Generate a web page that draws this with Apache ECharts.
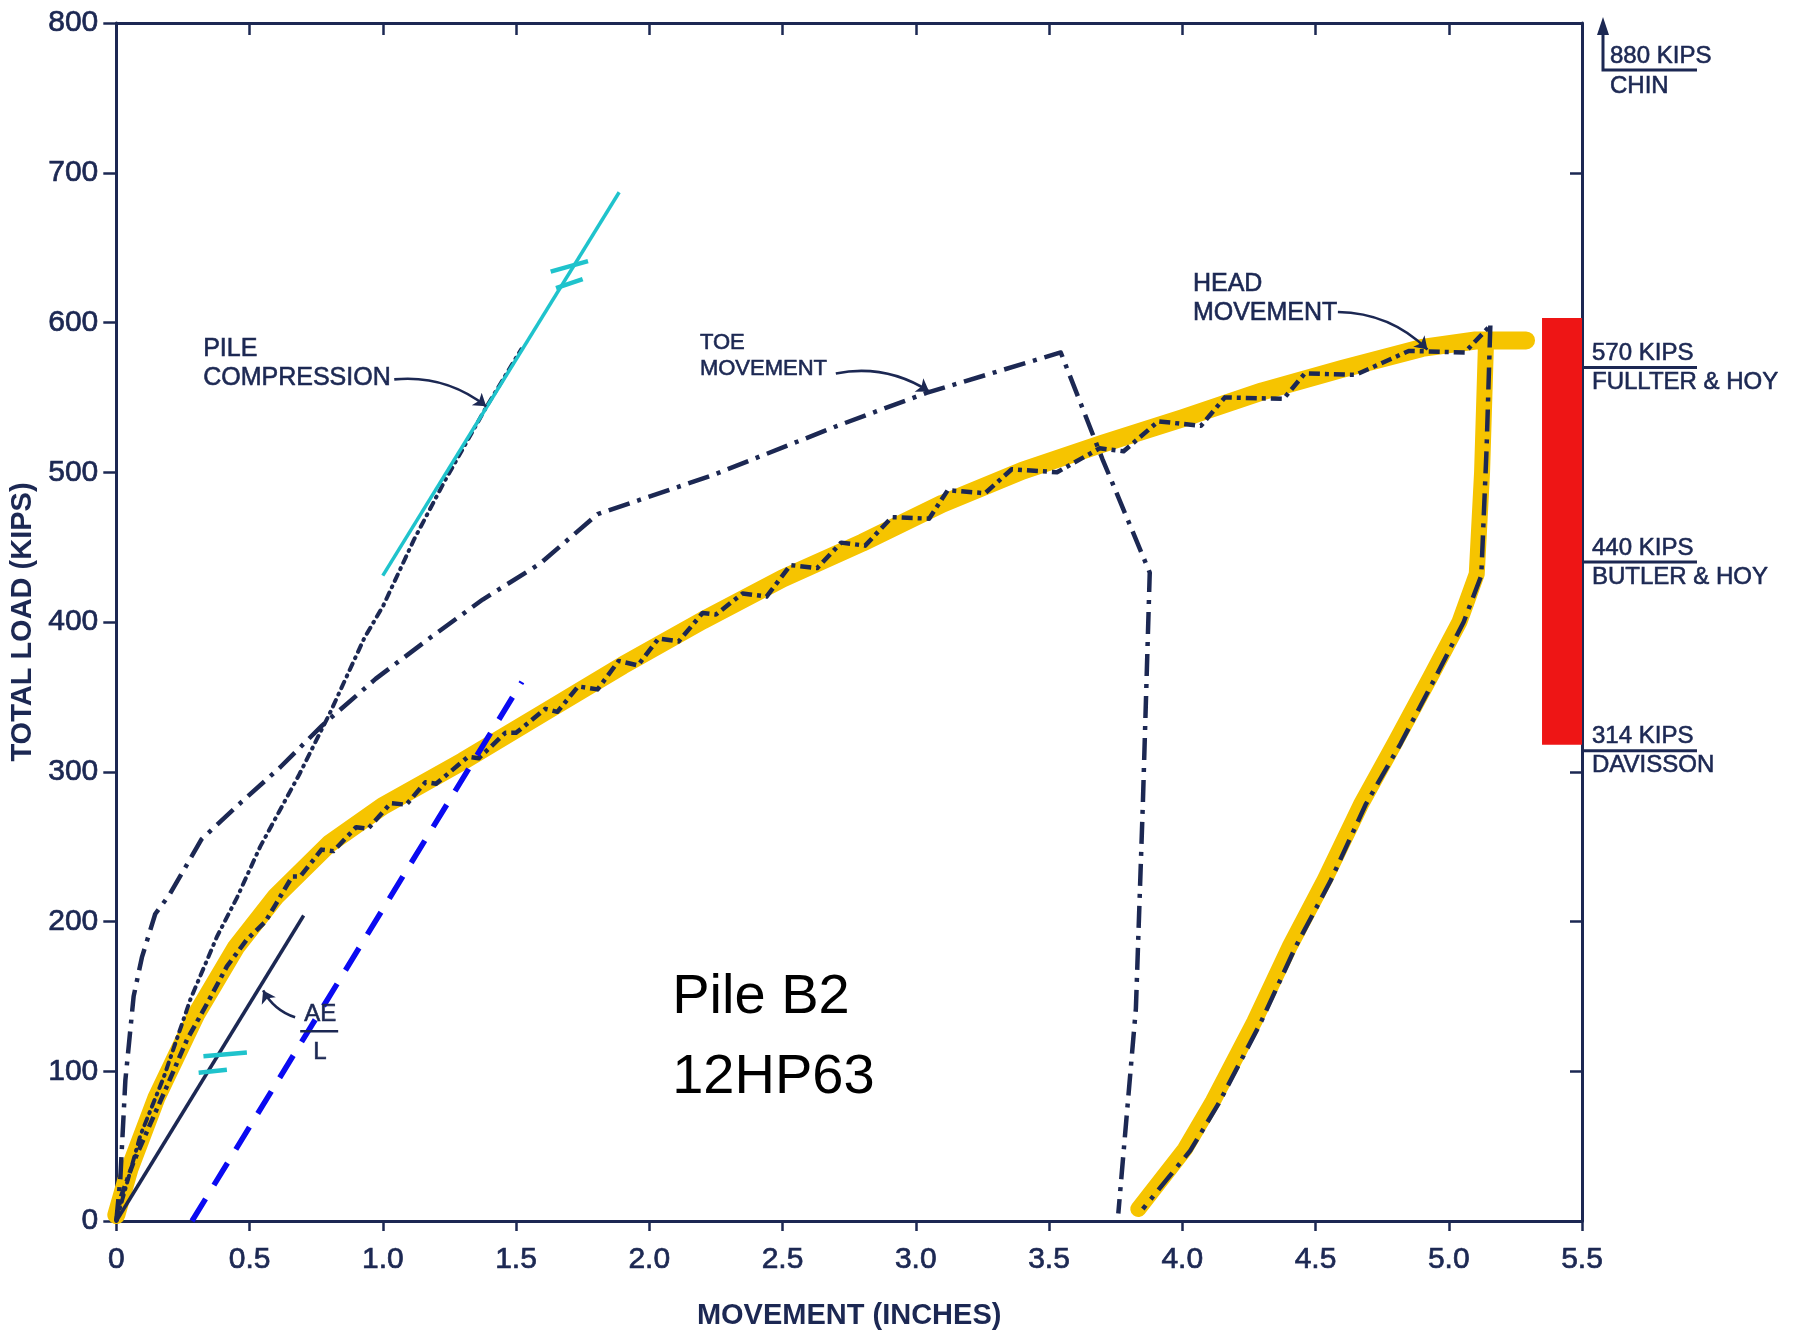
<!DOCTYPE html>
<html><head><meta charset="utf-8">
<script src="https://cdn.jsdelivr.net/npm/echarts@6/dist/echarts.min.js"></script>
<style>html,body{margin:0;padding:0;background:#fff}#c{width:1798px;height:1335px}</style>
</head><body><div id="c"></div>
<script>
// ---------- tick labels ----------
const xTickLabels = ['0','0.5','1.0','1.5','2.0','2.5','3.0','3.5','4.0','4.5','5.0','5.5'];
const yTickLabels = ['0','100','200','300','400','500','600','700','800'];

// ---------- data (movement in inches, load in kips) ----------
const headLoading = [[0,0],[0.015,15],[0.064,39],[0.128,65],[0.19,90],[0.265,121],[0.34,145],[0.415,170],[0.49,188],[0.56,200],[0.6,212],[0.66,230],[0.69,230],[0.77,248],[0.815,247],[0.9,263],[0.945,262],[1.03,279],[1.088,278],[1.16,293],[1.2,292],[1.32,310],[1.36,309],[1.46,326],[1.5,326],[1.61,342],[1.655,340],[1.733,357],[1.806,355],[1.885,374],[1.957,371],[2.035,389],[2.11,387],[2.2,406],[2.25,405],[2.35,419],[2.44,417],[2.53,438],[2.63,436],[2.72,453],[2.81,451],[2.91,470],[3.05,469],[3.12,488],[3.26,486],[3.36,502],[3.53,500],[3.69,516],[3.78,514],[3.91,534],[4.07,531],[4.16,550],[4.38,549],[4.46,566],[4.65,565],[4.85,581],[5.06,580],[5.156,598]];
const headUnloading = [[5.156,598],[5.142,516],[5.122,431],[5.056,400],[4.95,363],[4.82,319],[4.688,278],[4.556,227],[4.425,183],[4.293,132],[4.135,78],[4.03,47],[3.852,8]];
const yellowLoading = [[0,4],[0.05,35],[0.15,82],[0.3,138],[0.45,183],[0.6,217],[0.8,252],[1.0,277],[1.3,307],[1.6,339],[1.9,371],[2.2,401],[2.5,429],[2.8,453],[3.1,479],[3.4,501],[3.7,519],[4.0,536],[4.3,554],[4.6,569],[4.9,583],[5.1,588],[5.29,588]];
const yellowUnloading = [[5.14,588],[5.125,500],[5.105,432],[5.04,400],[4.93,363],[4.8,320],[4.67,278],[4.535,228],[4.405,184],[4.27,133],[4.115,80],[4.01,48],[3.835,8]];
const toeMovement = [[0,0],[0.015,28],[0.034,94],[0.065,150],[0.096,176],[0.146,205],[0.2,218],[0.32,255],[0.471,280],[0.615,303],[0.773,331],[0.973,362],[1.174,389],[1.375,415],[1.59,439],[1.806,472],[2.237,498],[2.706,531],[3.04,553],[3.544,580],[3.7,509],[3.878,433],[3.852,278],[3.826,142],[3.76,5]];
const pileCompression = [[0,0],[0.09,57],[0.178,96],[0.278,148],[0.378,190],[0.453,216],[0.54,250],[0.686,298],[0.801,339],[0.93,389],[1.002,411],[1.117,455],[1.232,494],[1.39,544],[1.519,582]];
const elasticLine = [[0,0],[0.703,204]];          // AE/L
const offsetLine = [[0.284,0],[1.522,360]];       // blue dashed (Davisson offset)
const cyanLine = [[1.0,431],[1.887,687]];
const cyanMarks = [[[1.63,634],[1.77,641]],[[1.65,623],[1.75,629]],[[0.327,110],[0.49,112.5]],[[0.309,99],[0.415,101]]];
const redBand = [[5.35,603],[5.5,318]];

// leader arrows [from, to]
const leaderArrows = [[[1.043,562],[1.388,544]],[[2.70,566],[3.05,554]],[[4.584,607],[4.92,582]],[[0.671,136],[0.551,154]]];
// curve labels: text, anchor (top-left) in data units, font size
const curveLabels = [
  {text:'PILE\nCOMPRESSION', at:[0.326,592], size:25},
  {text:'TOE\nMOVEMENT', at:[2.19,595], size:22},
  {text:'HEAD\nMOVEMENT', at:[4.04,635], size:25}
];
const titleLines = ['Pile B2','12HP63'];
const titleAt = [2.086,176];
const aeText = ['AE','L'];
const aeAt = [0.705,146];

// capacity annotations on right side
const capValues = [570,440,314];
const capLoads = ['570 KIPS','440 KIPS','314 KIPS'];
const capMethods = ['FULLTER & HOY','BUTLER & HOY','DAVISSON'];
const chinLoad = '880 KIPS';
const chinMethod = 'CHIN';

const NAVY = '#1c2853';
const FONT = 'Liberation Sans, Arial, Helvetica, sans-serif';

const chart = echarts.init(document.getElementById('c'), null, {renderer:'canvas'});

function lineSeries(name, data, style, z){
  return {name, type:'line', data, showSymbol:false, symbol:'none', silent:true, z: z||3,
    lineStyle: Object.assign({cap:'butt', join:'round'}, style), animation:false};
}

const axisCommon = {
  type:'value', splitLine:{show:false},
  axisLine:{show:true, onZero:false, lineStyle:{color:NAVY, width:3}},
  axisTick:{show:true, lineStyle:{color:NAVY, width:2.5}}
};
const tickLabelStyle = {color:NAVY, fontSize:30, fontFamily:FONT, textBorderColor:NAVY, textBorderWidth:0.7};

const option = {
  animation:false,
  backgroundColor:'#ffffff',
  grid:{left:116, right:216, top:23, bottom:110, containLabel:false},
  xAxis:[
    Object.assign({}, axisCommon, {min:0, max:5.5, interval:0.5, position:'bottom',
      axisTick:{show:true, inside:false, length:10, lineStyle:{color:NAVY,width:2.5}},
      axisLabel:Object.assign({margin:24, formatter:v=>xTickLabels[Math.round(v/0.5)]}, tickLabelStyle),
      name:'MOVEMENT (INCHES)', nameLocation:'middle', nameGap:80,
      nameTextStyle:{color:NAVY, fontSize:29, fontWeight:'bold', fontFamily:FONT}}),
    Object.assign({}, axisCommon, {min:0, max:5.5, interval:0.5, position:'top',
      axisTick:{show:true, inside:true, length:12, lineStyle:{color:NAVY,width:2.5}},
      axisLabel:{show:false}})
  ],
  yAxis:[
    Object.assign({}, axisCommon, {min:0, max:800, interval:100, position:'left',
      axisTick:{show:true, inside:false, length:13, lineStyle:{color:NAVY,width:2.5}},
      axisLabel:Object.assign({margin:18, formatter:v=>yTickLabels[Math.round(v/100)]}, tickLabelStyle),
      name:'TOTAL LOAD (KIPS)', nameLocation:'middle', nameGap:71, nameRotate:90,
      nameTextStyle:{color:NAVY, fontSize:29, fontWeight:'bold', fontFamily:FONT}}),
    Object.assign({}, axisCommon, {min:0, max:800, interval:100, position:'right',
      axisTick:{show:true, inside:true, length:12, lineStyle:{color:NAVY,width:2.5}},
      axisLabel:{show:false}})
  ],
  series:[
    lineSeries('Yellow load', yellowLoading, {color:'#f6c400', width:18, cap:'round'}, 1),
    Object.assign(lineSeries('Yellow unload', yellowUnloading, {color:'#f6c400', width:16, cap:'round'}, 1), {
      markArea:{silent:true, itemStyle:{color:'#ee1515'},
        data:[[{coord:redBand[0]},{coord:redBand[1]}]]}
    }),
    lineSeries('AE/L', elasticLine, {color:NAVY, width:3.5}),
    lineSeries('Pile compression', pileCompression, {color:NAVY, width:4, cap:'round', type:[7,6,1,6]}),
    lineSeries('Toe movement', toeMovement, {color:NAVY, width:4.5, type:[22,8,4,8]}),
    lineSeries('Head movement', headLoading, {color:NAVY, width:4.5, type:[11,5,4,5]}),
    lineSeries('Head unloading', headUnloading, {color:NAVY, width:4.5, type:[22,8,4,8]}),
    lineSeries('Cyan', cyanLine, {color:'#1fc3cc', width:3.5}, 4),
    {name:'Cyan marks', type:'lines', coordinateSystem:'cartesian2d', silent:true, z:4,
      data:cyanMarks.map(c=>({coords:c})), lineStyle:{color:'#1fc3cc', width:4.5, opacity:1, curveness:0}},
    lineSeries('Offset', offsetLine, {color:'#0a0af2', width:5.5, type:[26,16]}, 5),
    {name:'Leaders', type:'lines', coordinateSystem:'cartesian2d', silent:true, z:6,
      symbol:['none','arrow'], symbolSize:12,
      data:leaderArrows.map(c=>({coords:c})), lineStyle:{color:NAVY, width:2.6, opacity:1, curveness:0.2}}
  ]
};
chart.setOption(option);

// ---------- annotations placed via axis conversion ----------
function px(p){ return chart.convertToPixel({gridIndex:0}, p); }
function txt(x, y, text, size, extra){
  return {type:'text', x, y, silent:true, z:10,
    style:Object.assign({text, fill:NAVY, font:size+'px '+FONT, stroke:NAVY, lineWidth:0.6, align:'left', verticalAlign:'top'}, extra||{})};
}
const g = [];
curveLabels.forEach(l=>{
  const p = px(l.at);
  g.push(txt(p[0], p[1], l.text, l.size, {lineHeight:l.size+4}));
});
{
  const p = px(titleAt);
  g.push({type:'text', x:p[0], y:p[1], silent:true, z:10,
    style:{text:titleLines.join('\n'), fill:'#000', font:'56px '+FONT, lineHeight:80, verticalAlign:'top', align:'left'}});
}
{
  const p = px(aeAt);
  g.push(txt(p[0], p[1], aeText[0], 24));
  g.push({type:'line', silent:true, z:10, shape:{x1:p[0]-4, y1:p[1]+29, x2:p[0]+34, y2:p[1]+29}, style:{stroke:NAVY, lineWidth:2.5}});
  g.push(txt(p[0]+9, p[1]+38, aeText[1], 24));
}
const axR = px([5.5,0])[0];
capValues.forEach((v,i)=>{
  const y = px([0,v])[1];
  g.push({type:'line', silent:true, z:10, shape:{x1:axR, y1:y, x2:axR+115, y2:y}, style:{stroke:NAVY, lineWidth:3}});
  g.push(txt(axR+10, y-2, capLoads[i], 24, {verticalAlign:'bottom'}));
  g.push(txt(axR+10, y+3, capMethods[i], 24));
});
{
  const top = px([0,800])[1];
  const ax = axR + 21, ly = top + 47;
  g.push({type:'polyline', silent:true, z:10, shape:{points:[[ax, top+8],[ax, ly],[ax+94, ly]]}, style:{stroke:NAVY, lineWidth:3, fill:null}});
  g.push({type:'polygon', silent:true, z:10, shape:{points:[[ax-6, top+12],[ax+6, top+12],[ax, top-6]]}, style:{fill:NAVY}});
  g.push(txt(ax+7, ly-2, chinLoad, 24, {verticalAlign:'bottom'}));
  g.push(txt(ax+7, ly+4, chinMethod, 24));
}
chart.setOption({graphic:g});
</script>
</body></html>
